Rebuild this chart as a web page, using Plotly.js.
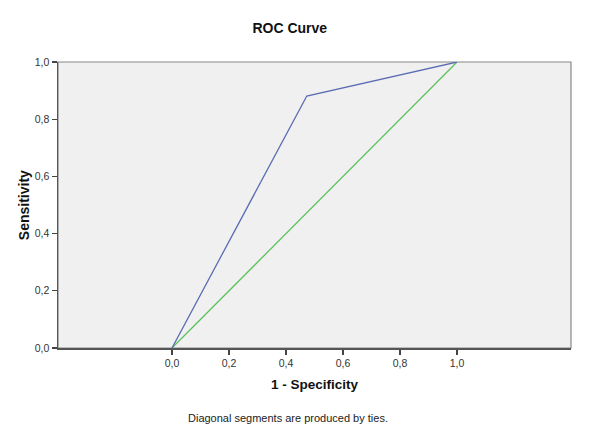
<!DOCTYPE html>
<html>
<head>
<meta charset="utf-8">
<script src="https://cdn.plot.ly/plotly-3.0.1.min.js"></script>
<style>html,body{margin:0;padding:0;background:#fff;}#chart{width:600px;height:446px;}</style>
</head>
<body>
<div id="chart"></div>
<script>
const rocX = [0.0, 0.473, 1.0];
const rocY = [0.0, 0.881, 1.0];
const refX = [0.0, 1.0];
const refY = [0.0, 1.0];
const tickVals = [0, 0.2, 0.4, 0.6, 0.8, 1.0];
const tickText = ["0,0", "0,2", "0,4", "0,6", "0,8", "1,0"];

const traces = [
  {x: refX, y: refY, mode: 'lines', line: {color: '#5cc25c', width: 1.3}, hoverinfo: 'skip'},
  {x: rocX, y: rocY, mode: 'lines', line: {color: '#5b6cb3', width: 1.3}, hoverinfo: 'skip'}
];

const layout = {
  width: 600, height: 446,
  margin: {l: 58, r: 29, t: 62, b: 98},
  paper_bgcolor: '#ffffff',
  plot_bgcolor: '#f0f0f0',
  showlegend: false,
  font: {family: 'Liberation Sans, Arial, sans-serif', color: '#222'},
  title: {text: '<b>ROC Curve</b>', x: 0.483, xanchor: 'center', y: 0.938, yanchor: 'middle', font: {size: 14, color: '#111'}},
  xaxis: {
    range: [-0.4, 1.4], tickvals: tickVals, ticktext: tickText,
    showgrid: false, zeroline: false,
    showline: true, linecolor: '#555', linewidth: 1.5,
    ticks: 'outside', ticklen: 5, tickcolor: '#444', tickwidth: 1.2,
    tickfont: {size: 10.5, color: '#333'},
    title: {text: '<b>1 - Specificity</b>', font: {size: 13.5, color: '#111'}, standoff: 11}
  },
  yaxis: {
    range: [0, 1], tickvals: tickVals, ticktext: tickText,
    showgrid: false, zeroline: false,
    showline: true, linecolor: '#555', linewidth: 1.5,
    ticks: 'outside', ticklen: 5, tickcolor: '#444', tickwidth: 1.2,
    tickfont: {size: 10.5, color: '#333'}
  },
  shapes: [
    {type: 'rect', xref: 'paper', yref: 'paper', x0: 0, x1: 1, y0: 0, y1: 1, line: {color: '#888', width: 1.2}, layer: 'below'}
  ],
  annotations: [
    {text: '<b>Sensitivity</b>', xref: 'paper', yref: 'paper', x: -0.066, y: 0.5, xanchor: 'center', yanchor: 'middle', textangle: -90, showarrow: false, font: {size: 14, color: '#111'}},
    {text: 'Diagonal segments are produced by ties.', xref: 'paper', yref: 'paper', x: 0.448, y: -0.245, xanchor: 'center', yanchor: 'middle', showarrow: false, font: {size: 11, color: '#222'}}
  ]
};

Plotly.newPlot('chart', traces, layout, {displayModeBar: false, staticPlot: true});
</script>
</body>
</html>
